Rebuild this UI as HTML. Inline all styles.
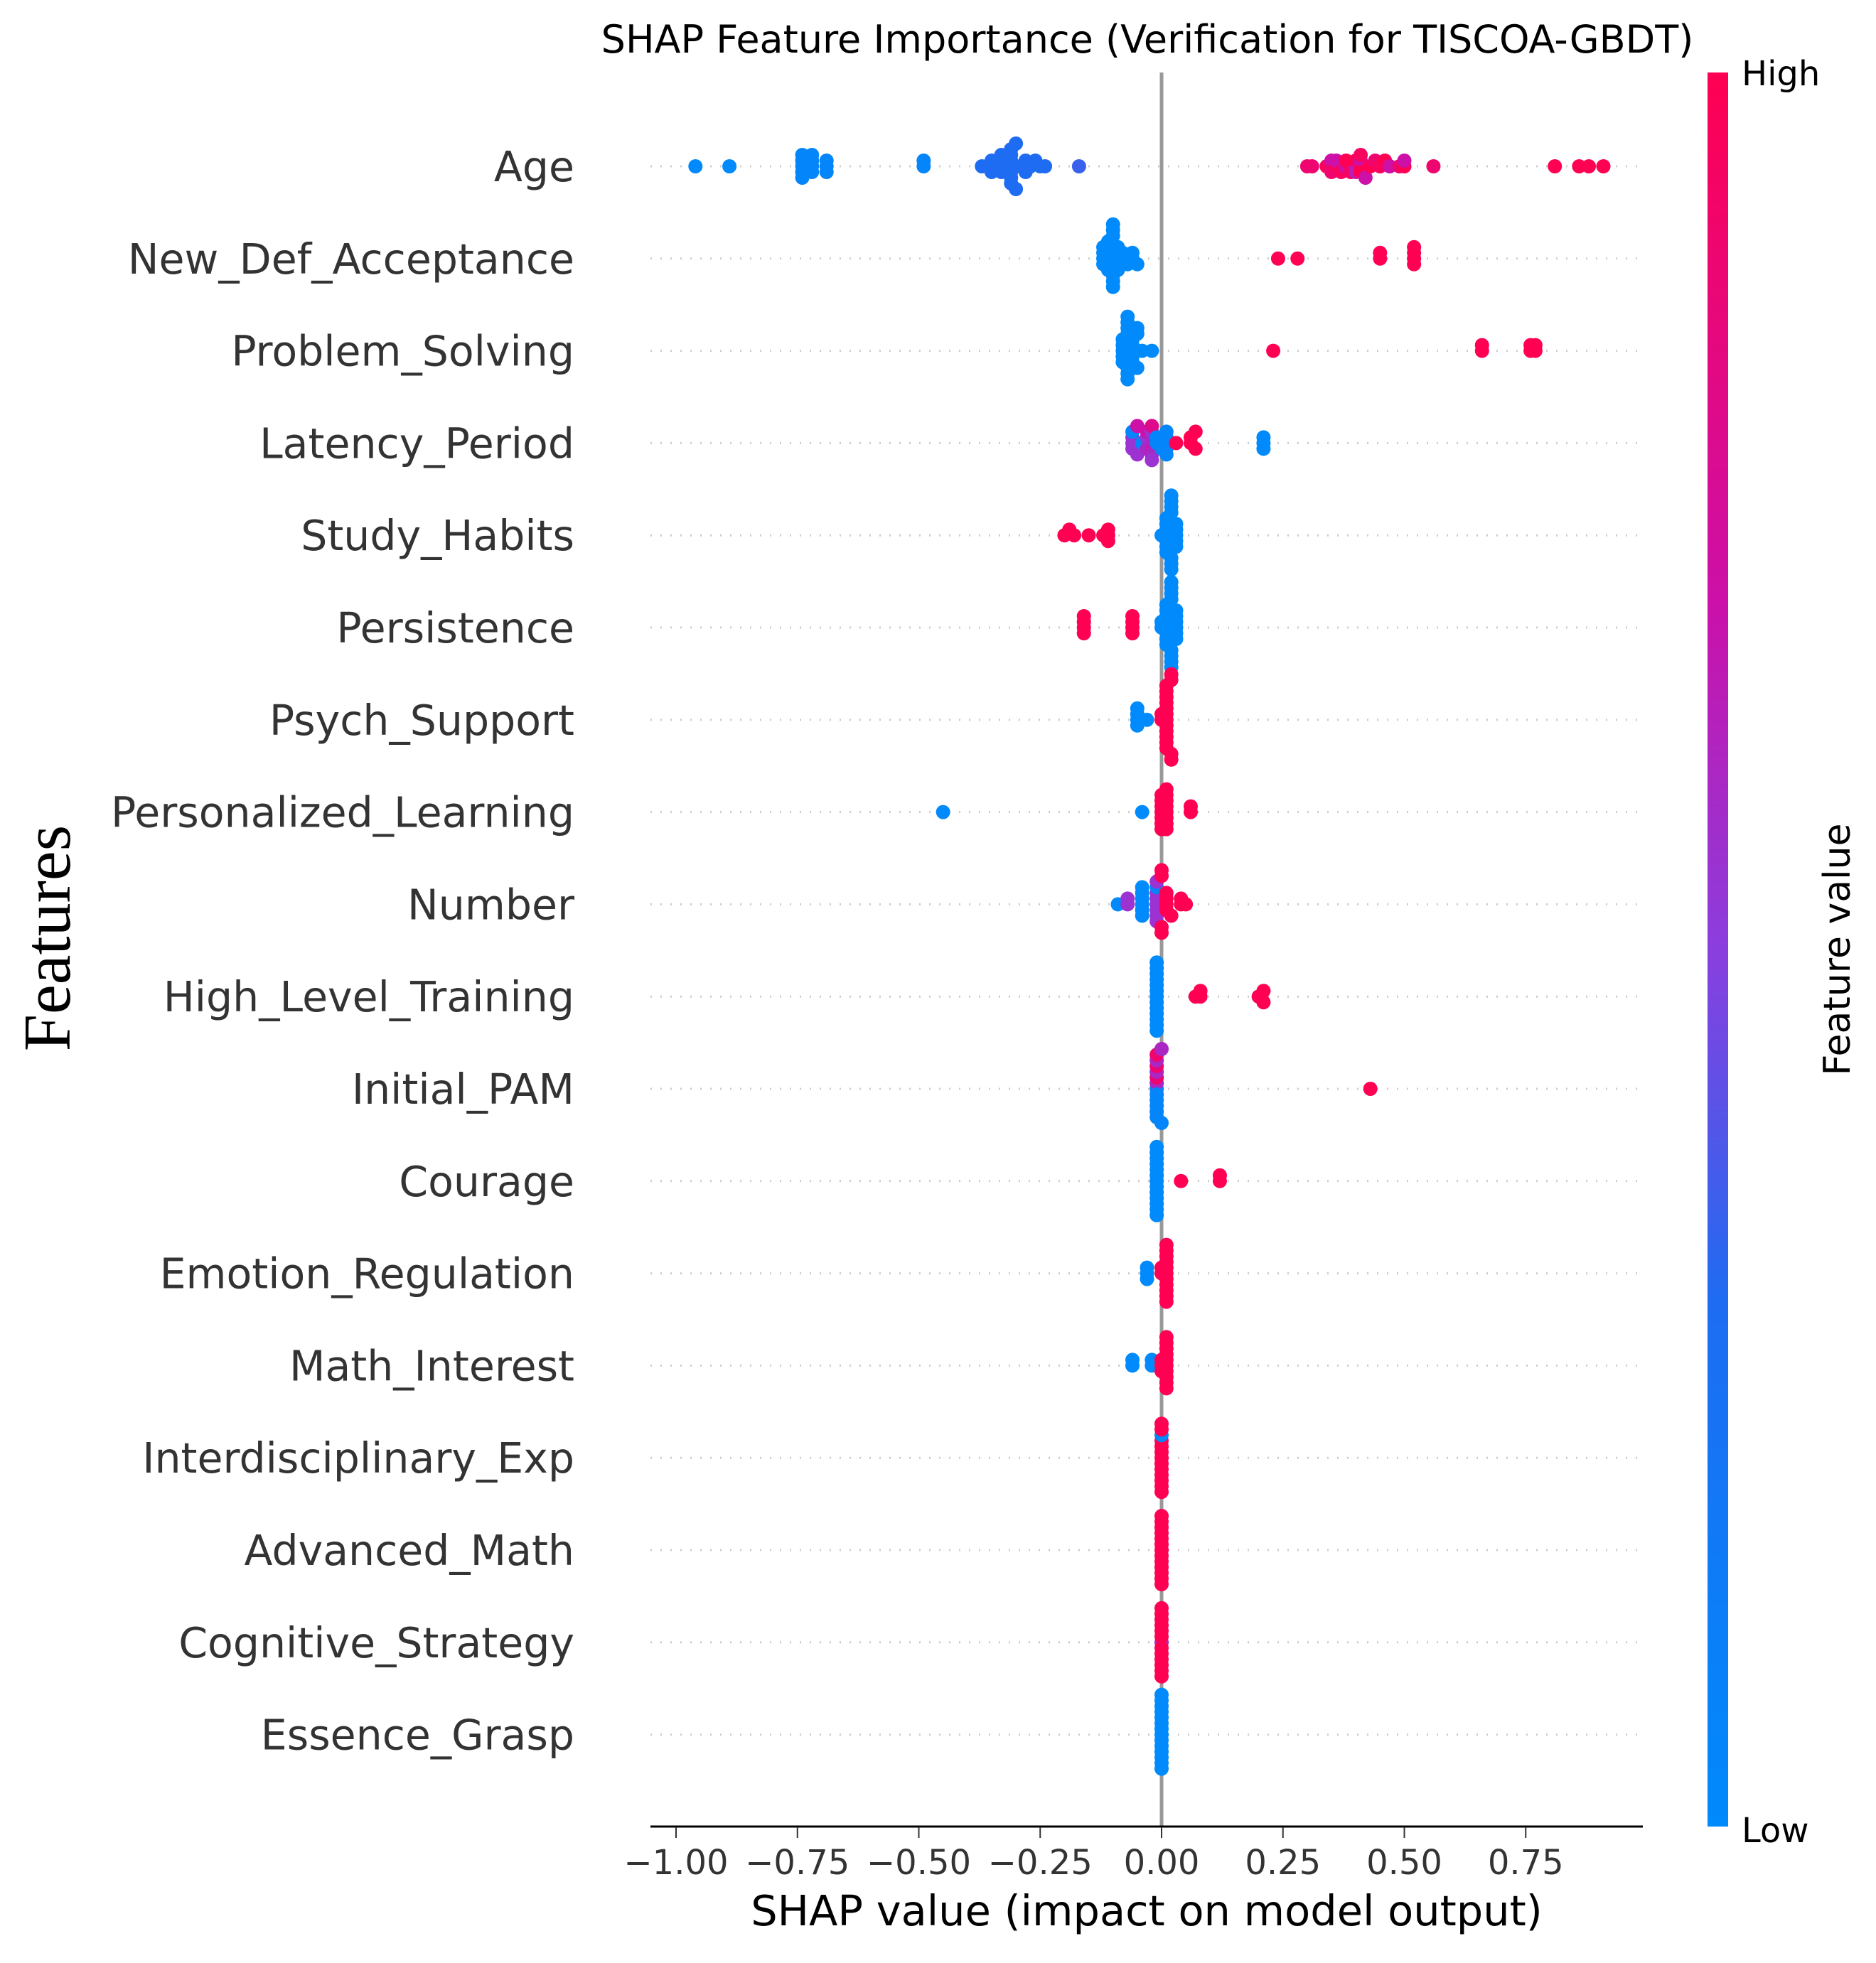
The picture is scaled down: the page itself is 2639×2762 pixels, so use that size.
<!DOCTYPE html>
<html><head><meta charset="utf-8">
<style>
html,body{margin:0;padding:0;background:#fff;}
svg{display:block;font-family:"DejaVu Sans","Liberation Sans",sans-serif;}
</style></head>
<body>
<svg id="chart" width="2639" height="2762" viewBox="0 0 2639 2762" xmlns="http://www.w3.org/2000/svg">
<defs>
<linearGradient id="cbar" x1="0" y1="1" x2="0" y2="0">
<stop offset="0" stop-color="#008afb"/>
<stop offset="0.3" stop-color="#1e6cf2"/>
<stop offset="0.5" stop-color="#8a3ede"/>
<stop offset="0.7" stop-color="#cc10a8"/>
<stop offset="1" stop-color="#ff0052"/>
</linearGradient>
</defs>
<text x="1614" y="74" font-size="54" text-anchor="middle" fill="#000">SHAP Feature Importance (Verification for TISCOA-GBDT)</text>
<g id="grid"></g>
<line x1="1634" y1="102" x2="1634" y2="2570" stroke="#999" stroke-width="5"/>
<g id="dots"></g>
<g id="labels"></g>
<g id="xaxis"></g>
<text x="1613" y="2709" font-size="59" text-anchor="middle" fill="#000">SHAP value (impact on model output)</text>
<text transform="translate(98,1320) rotate(-90)" font-size="94" text-anchor="middle" fill="#000" font-family="Liberation Serif, DejaVu Serif, serif">Features</text>
<rect x="2402" y="102" width="29" height="2468" fill="url(#cbar)"/>
<text x="2450" y="120" font-size="48" fill="#000">High</text>
<text x="2450" y="2592" font-size="48" fill="#000">Low</text>
<text transform="translate(2602,1336) rotate(-90)" font-size="52" text-anchor="middle" fill="#000">Feature value</text>
</svg>
<script>
const features = ["Age","New_Def_Acceptance","Problem_Solving","Latency_Period","Study_Habits","Persistence","Psych_Support","Personalized_Learning","Number","High_Level_Training","Initial_PAM","Courage","Emotion_Regulation","Math_Interest","Interdisciplinary_Exp","Advanced_Math","Cognitive_Strategy","Essence_Grasp"];
const xTicks = [-1.0,-0.75,-0.5,-0.25,0.0,0.25,0.5,0.75];
const xTickLabels = ["\u22121.00","\u22120.75","\u22120.50","\u22120.25","0.00","0.25","0.50","0.75"];
// SHAP values per feature
const shapAge = [-0.96,-0.89,-0.74,-0.74,-0.74,-0.74,-0.74,-0.72,-0.72,-0.72,-0.72,-0.69,-0.69,-0.69,-0.49,-0.49,-0.37,-0.36,-0.35,-0.35,-0.34,-0.34,-0.33,-0.33,-0.32,-0.31,-0.31,-0.31,-0.31,-0.31,-0.31,-0.31,-0.30,-0.30,-0.29,-0.28,-0.28,-0.27,-0.26,-0.25,-0.24,-0.17,0.30,0.31,0.34,0.35,0.35,0.36,0.36,0.37,0.38,0.38,0.39,0.40,0.40,0.40,0.41,0.41,0.41,0.41,0.42,0.43,0.44,0.45,0.46,0.47,0.49,0.50,0.50,0.56,0.81,0.86,0.88,0.91];
const featAge = [0,0,0.05,0.05,0.05,0.05,0.05,0.05,0.05,0.05,0.05,0.05,0.05,0.05,0.05,0.05,0.3,0.3,0.3,0.3,0.3,0.3,0.3,0.3,0.3,0.3,0.3,0.3,0.3,0.3,0.3,0.3,0.3,0.3,0.3,0.3,0.3,0.3,0.3,0.3,0.3,0.35,0.9,0.9,0.95,0.7,0.9,0.95,0.7,0.95,0.7,1,0.95,0.7,1,0.65,0.9,0.7,1,0.95,0.7,1,0.9,0.95,1,0.7,0.9,1,0.7,0.9,1,1,1,1];
const shapNDA = [-0.12,-0.12,-0.12,-0.12,-0.11,-0.11,-0.11,-0.11,-0.11,-0.11,-0.10,-0.10,-0.10,-0.10,-0.10,-0.10,-0.09,-0.09,-0.09,-0.09,-0.09,-0.08,-0.08,-0.07,-0.06,-0.06,-0.05,0.24,0.28,0.45,0.45,0.52,0.52,0.52,0.52];
const featNDA = [0,0,0,0,0,0,0,0,0,0,0,0,0,0,0,0,0,0,0,0,0,0,0,0,0,0,0,1,1,1,1,1,1,1,1];
const shapPS = [-0.08,-0.08,-0.08,-0.08,-0.08,-0.07,-0.07,-0.07,-0.07,-0.07,-0.07,-0.07,-0.06,-0.06,-0.06,-0.06,-0.06,-0.05,-0.05,-0.05,-0.04,-0.02,0.23,0.66,0.66,0.76,0.76,0.77,0.77];
const featPS = [0,0,0,0,0,0,0,0,0,0,0,0,0,0,0,0,0,0,0,0,0,0,1,1,1,1,1,1,1];
const shapLP = [-0.06,-0.06,-0.06,-0.06,-0.05,-0.05,-0.04,-0.03,-0.03,-0.03,-0.02,-0.02,-0.02,-0.02,-0.02,-0.02,-0.02,-0.01,-0.01,0.00,0.01,0.01,0.01,0.01,0.01,0.03,0.06,0.06,0.07,0.07,0.21,0.21,0.21];
const featLP = [0.55,0.55,0.55,0.05,0.55,0.7,0.05,0.55,0.6,0.7,0.55,0.6,0.65,0.55,0.6,0.8,0.55,0.05,0.05,0.05,0.05,0.05,0.05,0.05,0.05,1,1,1,1,1,0,0,0];
const shapSH = [-0.20,-0.19,-0.18,-0.15,-0.12,-0.11,-0.11,-0.11,0.00,0.01,0.01,0.01,0.01,0.01,0.01,0.01,0.02,0.02,0.02,0.02,0.02,0.02,0.02,0.03,0.03,0.03,0.03,0.03];
const featSH = [1,1,1,1,1,1,1,1,0,0,0,0,0,0,0,0,0,0,0,0,0,0,0,0,0,0,0,0];
const shapPE = [-0.16,-0.16,-0.16,-0.16,-0.06,-0.06,-0.06,-0.06,0.00,0.00,0.01,0.01,0.01,0.01,0.01,0.01,0.01,0.01,0.02,0.02,0.02,0.02,0.02,0.02,0.02,0.02,0.03,0.03,0.03,0.03,0.03,0.03];
const featPE = [1,1,1,1,1,1,1,1,0,0,0,0,0,0,0,0,0,0,0,0,0,0,0,0,0,0,0,0,0,0,0,0];
const shapPSu = [-0.05,-0.05,-0.05,-0.05,-0.03,0.00,0.00,0.01,0.01,0.01,0.01,0.01,0.01,0.01,0.01,0.01,0.01,0.01,0.01,0.02,0.02,0.02,0.02];
const featPSu = [0,0,0,0,0,1,1,1,1,1,1,1,1,1,1,1,1,1,1,1,1,1,1];
const shapPL = [-0.45,-0.04,0.00,0.00,0.00,0.00,0.00,0.00,0.00,0.01,0.01,0.01,0.01,0.01,0.01,0.01,0.01,0.06,0.06];
const featPL = [0,0,1,1,1,1,1,1,1,1,1,1,1,1,1,1,1,1,1];
const shapNu = [-0.09,-0.07,-0.07,-0.04,-0.04,-0.04,-0.04,-0.04,-0.04,-0.01,-0.01,-0.01,-0.01,-0.01,-0.01,-0.01,-0.01,0.00,0.00,0.00,0.00,0.01,0.01,0.01,0.01,0.02,0.04,0.04,0.05];
const featNu = [0,0.55,0.55,0,0,0,0,0,0,0.55,0.55,0.55,0.55,0.55,0.1,0.55,0.55,1,1,1,1,1,1,1,1,1,1,1,1];
const shapHL = [-0.01,-0.01,-0.01,-0.01,-0.01,-0.01,-0.01,-0.01,-0.01,-0.01,-0.01,-0.01,-0.01,0.07,0.08,0.08,0.20,0.21,0.21];
const featHL = [0,0,0,0,0,0,0,0,0,0,0,0,0,1,1,1,1,1,1];
const shapIP = [-0.01,-0.01,-0.01,-0.01,-0.01,-0.01,-0.01,-0.01,-0.01,-0.01,-0.01,-0.01,0.00,0.00,0.43];
const featIP = [0.05,0.6,0.05,0.9,0.05,0.6,0.05,0.9,0.05,0.6,0.05,0.9,0.05,0.6,1];
const shapCo = [-0.01,-0.01,-0.01,-0.01,-0.01,-0.01,-0.01,-0.01,-0.01,-0.01,-0.01,-0.01,-0.01,0.04,0.12,0.12];
const featCo = [0,0,0,0,0,0,0,0,0,0,0,0,0,1,1,1];
const shapER = [-0.03,-0.03,-0.03,0.00,0.00,0.01,0.01,0.01,0.01,0.01,0.01,0.01,0.01,0.01,0.01,0.01];
const featER = [0,0,0,1,1,1,1,1,1,1,1,1,1,1,1,1];
const shapMI = [-0.06,-0.06,-0.02,-0.02,0.00,0.00,0.00,0.01,0.01,0.01,0.01,0.01,0.01,0.01,0.01,0.01,0.01];
const featMI = [0,0,0,0,1,1,1,1,1,1,1,1,1,1,1,1,1];
const shapIE = [0,0,0,0,0,0,0,0,0,0,0,0,0];
const featIE = [1,1,1,1,1,1,1,0,1,1,1,1,1];
const shapAM = [0,0,0,0,0,0,0,0,0,0,0,0,0];
const featAM = [1,1,1,1,1,1,1,1,1,1,1,1,1];
const shapCS = [0,0,0,0,0,0,0,0,0,0,0,0,0];
const featCS = [0.6,1,1,1,1,1,1,1,1,1,1,1,1];
const shapEG = [0,0,0,0,0,0,0,0,0,0,0,0,0,0];
const featEG = [0,0,0,0,0,0,0,0,0,0,0,0,0,0];

const shapSets = [shapAge,shapNDA,shapPS,shapLP,shapSH,shapPE,shapPSu,shapPL,shapNu,shapHL,shapIP,shapCo,shapER,shapMI,shapIE,shapAM,shapCS,shapEG];
const featSets = [featAge,featNDA,featPS,featLP,featSH,featPE,featPSu,featPL,featNu,featHL,featIP,featCo,featER,featMI,featIE,featAM,featCS,featEG];

const NS = "http://www.w3.org/2000/svg";
const X0 = 1634, XU = 683, Y0 = 234, DY = 129.8, PL = 915, PR = 2311;
function xs(v){ return X0 + v*XU; }
function ys(i){ return Y0 + i*DY; }
const stops = [[0,[0,138,251]],[0.3,[30,108,242]],[0.5,[138,62,222]],[0.7,[204,16,168]],[1,[255,0,82]]];
function col(t){
  for(let k=1;k<stops.length;k++){
    if(t<=stops[k][0]){
      const a=stops[k-1],b=stops[k],f=(t-a[0])/(b[0]-a[0]);
      const c=a[1].map((v,j)=>Math.round(v+(b[1][j]-v)*f));
      return "rgb("+c.join(",")+")";
    }
  }
  return "rgb(255,0,82)";
}
const grid=document.getElementById('grid'), dots=document.getElementById('dots'), labels=document.getElementById('labels'), xaxis=document.getElementById('xaxis');
features.forEach((name,i)=>{
  const y=ys(i);
  const gl=document.createElementNS(NS,'line');
  
  
  gl.setAttribute('x1',PL);gl.setAttribute('x2',PR);gl.setAttribute('y1',y);gl.setAttribute('y2',y);
  gl.setAttribute('stroke','#ccc');gl.setAttribute('stroke-width','3');gl.setAttribute('stroke-dasharray','2 12');
  grid.appendChild(gl);
  const t=document.createElementNS(NS,'text');
  
  
  t.setAttribute('x',808);t.setAttribute('y',y+21);t.setAttribute('text-anchor','end');
  t.setAttribute('font-size','58.5');t.setAttribute('fill','#333');
  t.textContent=name; labels.appendChild(t);
  const sv=shapSets[i], fv=featSets[i];
  const idx=sv.map((v,k)=>k).sort((a,b)=>sv[a]-sv[b]);
  const bins={};
  idx.forEach(k=>{
    const b=Math.round(xs(sv[k])/12);
    const n=bins[b]||0; bins[b]=n+1;
    const off=(n%2===0?1:-1)*Math.ceil(n/2)*8;
    const c=document.createElementNS(NS,'circle');
    
    
    c.setAttribute('cx',xs(sv[k]));c.setAttribute('cy',y+off);c.setAttribute('r',10);
    c.setAttribute('fill',col(fv[k]));
    dots.appendChild(c);
  });
});
const ax=document.createElementNS(NS,'line');


ax.setAttribute('x1',PL);ax.setAttribute('x2',PR);ax.setAttribute('y1',2570);ax.setAttribute('y2',2570);
ax.setAttribute('stroke','#000');ax.setAttribute('stroke-width','3');
xaxis.appendChild(ax);
xTicks.forEach((v,k)=>{
  const tk=document.createElementNS(NS,'line');
  
  
  tk.setAttribute('x1',xs(v));tk.setAttribute('x2',xs(v));tk.setAttribute('y1',2571);tk.setAttribute('y2',2586);
  tk.setAttribute('stroke','#333');tk.setAttribute('stroke-width','2');
  xaxis.appendChild(tk);
  const tl=document.createElementNS(NS,'text');
  
  
  tl.setAttribute('x',xs(v));tl.setAttribute('y',2637);tl.setAttribute('text-anchor','middle');
  tl.setAttribute('font-size','48');tl.setAttribute('fill','#333');
  tl.textContent=xTickLabels[k]; xaxis.appendChild(tl);
});
</script>
</body></html>
